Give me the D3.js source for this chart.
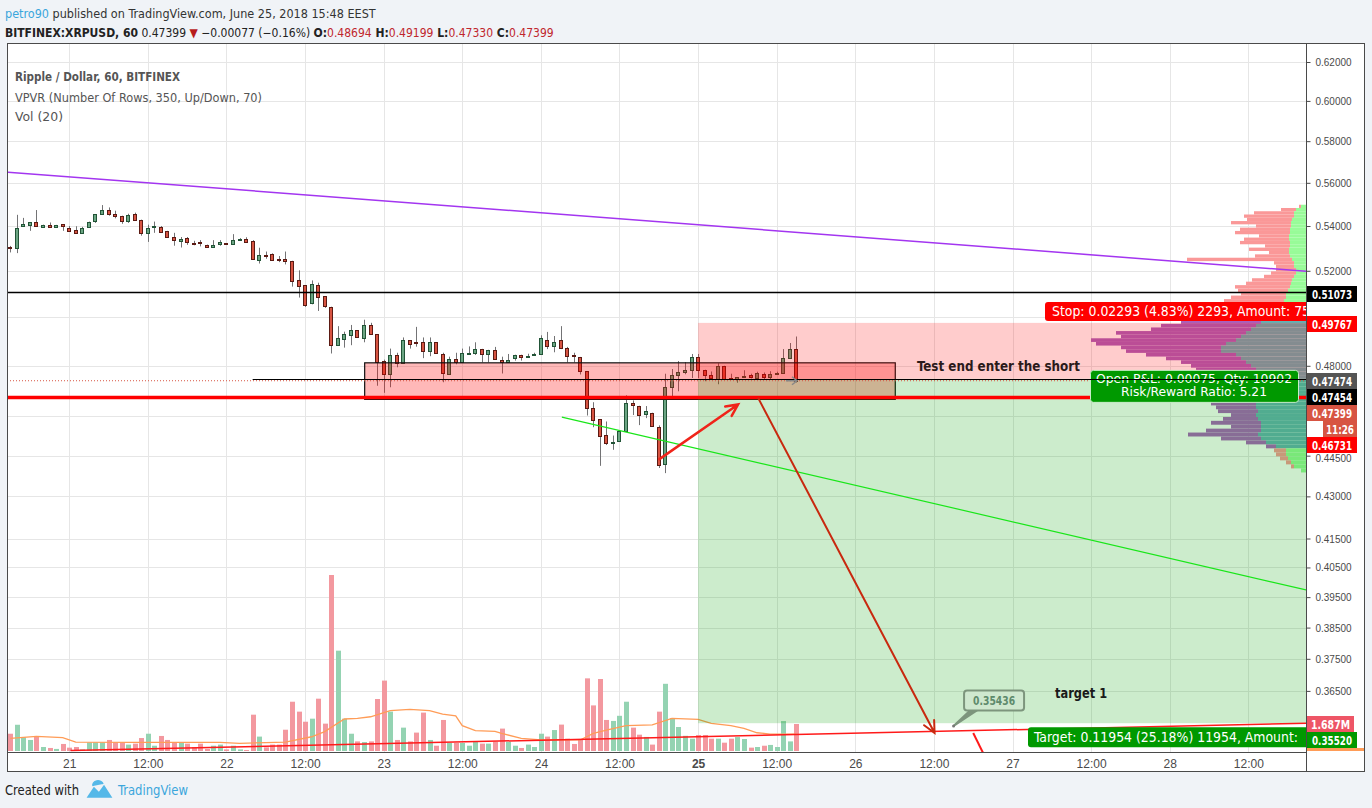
<!DOCTYPE html>
<html><head><meta charset="utf-8">
<script src="https://cdn.jsdelivr.net/npm/d3@7"></script>
<style>
body{margin:0;background:#f0f3f7;}
svg{display:block;font-family:"DejaVu Sans Condensed","Liberation Sans Narrow",Arial,sans-serif;}
</style></head><body>
<svg id="c" width="1372" height="808"></svg>
<script>
// ---------------- DATA ----------------
const firstBar = "2018-06-20T15:00:00Z"; // hourly bars
const opens = [.5305,.5300,.5399,.5401,.5416,.5397,.5405,.5397,.5409,.5393,.5384,.5369,.5399,.5420,.5452,.5475,.5456,.5447,.5423,.5456,
.5429,.5371,.5393,.5397,.5375,.5349,.5334,.5344,.5325,.5326,.5316,.5306,.5318,.5323,.5317,.5335,.5341,.5332,.5250,.5271,
.5273,.5250,.5250,.5244,.5158,.5137,.5060,.5137,.5089,.5045,.4884,.4911,.4927,.4946,.4915,.4968,.4929,.4820,.4768,.4844,
.4812,.4905,.4897,.4896,.4859,.4896,.4849,.4770,.4829,.4816,.4848,.4851,.4869,.4848,.4865,.4825,.4817,.4833,.4845,.4836,
.4840,.4848,.4905,.4880,.4905,.4872,.4842,.4836,.4778,.4633,.4588,.4529,.4497,.4505,.4543,.4650,.4641,.4606,.4614,.4560,
.4417,.4715,.4762,.4775,.4784,.4836,.4784,.4761,.4748,.4800,.4749,.4745,.4752,.4761,.4752,.4765,.4752,.4765,.4768,.4830,.48694];
const highs = [.5310,.5451,.5437,.5416,.5473,.5406,.5416,.5405,.5409,.5400,.5399,.5396,.5420,.5454,.5496,.5485,.5470,.5447,.5456,.5461,
.5429,.5406,.5420,.5400,.5378,.5369,.5350,.5350,.5333,.5336,.5316,.5336,.5336,.5323,.5363,.5345,.5349,.5336,.5302,.5285,
.5277,.5265,.5285,.5244,.5202,.5137,.5158,.5148,.5089,.5045,.4963,.4940,.4968,.4946,.4990,.4977,.4929,.4825,.4870,.4853,
.4916,.4905,.4960,.4916,.4916,.4896,.4853,.4837,.4853,.4870,.4879,.4896,.4869,.4865,.4877,.4837,.4848,.4845,.4845,.4849,
.4853,.4925,.4939,.4922,.4963,.4877,.4853,.4836,.4778,.4655,.4588,.4580,.4526,.4543,.4682,.4662,.4641,.4640,.4614,.4565,
.4768,.4787,.4819,.4815,.4848,.4848,.4784,.4777,.4810,.4800,.4768,.4753,.4782,.4768,.4776,.4773,.4778,.4776,.4868,.4893,.49199];
const lows = [.5281,.5278,.5396,.5378,.5396,.5393,.5397,.5397,.5378,.5378,.5364,.5369,.5399,.5414,.5452,.5447,.5435,.5410,.5414,.5427,
.5356,.5328,.5369,.5369,.5346,.5311,.5303,.5315,.5313,.5308,.5307,.5306,.5311,.5317,.5317,.5335,.5329,.5251,.5232,.5253,
.5245,.5238,.5228,.5131,.5084,.5044,.5055,.5027,.5040,.4850,.4884,.4874,.4884,.4915,.4896,.4927,.4720,.4692,.4714,.4794,
.4812,.4870,.4878,.4831,.4839,.4851,.4734,.4765,.4806,.4816,.4848,.4844,.4814,.4814,.4829,.4769,.4817,.4821,.4821,.4836,
.4840,.4848,.4868,.4855,.4868,.4814,.4814,.4765,.4603,.4558,.4412,.4490,.4472,.4505,.4543,.4605,.4566,.4593,.4564,.4404,
.4385,.4670,.4698,.4766,.4751,.4751,.4738,.4748,.4726,.4748,.4745,.4732,.4752,.4749,.4752,.4743,.4743,.4765,.4768,.4830,.47330];
const closes = [.5301,.5390,.5410,.5416,.5396,.5404,.5397,.5405,.5398,.5378,.5369,.5393,.5420,.5454,.5471,.5456,.5445,.5423,.5451,.5427,
.5369,.5393,.5399,.5373,.5346,.5334,.5341,.5324,.5320,.5320,.5307,.5316,.5327,.5317,.5336,.5341,.5329,.5251,.5270,.5265,
.5245,.5244,.5241,.5155,.5133,.5052,.5141,.5087,.5047,.4884,.4913,.4930,.4946,.4915,.4968,.4929,.4814,.4768,.4844,.4812,
.4905,.4888,.4893,.4859,.4896,.4851,.4770,.4829,.4816,.4853,.4854,.4869,.4848,.4865,.4829,.4818,.4824,.4845,.4837,.4839,
.4846,.4914,.4880,.4897,.4872,.4840,.4838,.4778,.4633,.4585,.4524,.4499,.4502,.4543,.4650,.4641,.4606,.4619,.4564,.4415,
.4715,.4763,.4775,.4784,.4837,.4782,.4763,.4748,.4800,.4748,.4745,.4753,.4757,.4752,.4771,.4752,.4765,.4770,.4830,.4868,.47399];
// volume in millions
const volumes = [1.08,1.64,0.86,0.69,0.90,0.25,0.19,0.13,0.44,0.21,0.25,0.10,0.54,0.54,0.54,0.69,0.54,0.54,0.40,0.46,
0.81,1.08,0.33,0.94,0.69,0.54,0.54,0.46,0.25,0.46,0.13,0.33,0.40,0.10,0.33,0.10,0.06,2.27,0.90,0.23,
0.40,0.40,1.33,3.08,2.46,1.83,2.02,3.27,1.71,11.0,6.27,2.02,1.08,0.60,0.56,0.60,3.25,4.40,2.46,0.69,
1.46,0.60,1.15,2.40,0.69,0.33,1.94,0.50,0.50,0.50,0.33,0.60,0.46,0.46,0.58,1.40,0.58,0.33,0.19,0.40,
0.25,1.08,0.90,1.31,1.65,0.77,0.44,0.69,4.54,2.85,4.50,1.94,1.88,2.20,3.08,1.46,1.02,0.88,0.40,2.46,
4.20,2.06,1.50,0.95,0.77,1.00,1.00,0.77,0.77,0.52,0.77,0.87,0.75,0.21,0.25,0.33,0.38,0.25,1.87,0.60,1.687];
// Vol (20) moving average: [bar number, value in millions]
const volMA = [[0,.79],[4,.92],[8,.83],[10,.56],[19,.54],[32,.54],[35,.48],[39,.52],[42,.56],[46,.89],[48,1.21],[51,2.0],[53,2.04],
[55,2.14],[58,2.52],[61,2.6],[64,2.52],[66,2.31],[68,2.19],[69,1.58],[71,1.27],[74,1.23],[75,1.1],[78,.79],[81,.69],[87,.69],
[89,1.1],[91,1.31],[94,1.58],[98,1.63],[101,2.04],[105,1.98],[107,1.73],[110,1.58],[112,1.42],[114,1.14],[116,1.06],[120,1.06]];
// VPVR rows (row centre price, up volume, down volume; relative units)
const vpPrice = [.5490,.5475,.5460,.5445,.5430,.5415,.5400,.5385,.5370,.5355,.5340,.5325,.5310,.5295,.5280,.5265,.5250,.5235,.5220,.5205,
.5190,.5175,.5160,.5145,.5130,.5115,.5100,.5085,.5070,.5055,.5040,.5025,.5010,.4995,.4980,.4965,.4950,.4935,.4920,.4905,
.4890,.4875,.4860,.4845,.4830,.4815,.4800,.4785,.4770,.4755,.4740,.4725,.4710,.4695,.4680,.4665,.4650,.4635,.4620,.4605,
.4590,.4575,.4560,.4545,.4530,.4515,.4500,.4485,.4470,.4455,.4440,.4425,.4410,.4395];
const vpUp = [5,10,12,12,14,15,15,16,16,17,17,16,16,17,17,16,14,12,12,10,10,12,14,15,16,18,20,20,22,25,
25,28,30,35,45,50,55,60,65,70,80,85,85,70,65,60,55,50,55,55,60,60,60,55,55,55,50,50,48,50,
48,45,45,45,48,45,40,30,20,20,18,15,12,5];
const vpDown = [2,15,40,50,45,60,35,50,55,30,45,50,25,40,20,35,105,20,18,20,25,30,40,45,55,50,45,55,60,55,
55,60,60,70,80,95,100,130,120,145,130,100,95,90,75,65,60,60,55,60,60,65,70,65,60,50,45,40,40,25,
35,50,30,55,70,40,20,10,12,10,8,5,3,0];
const vaHigh = 0.4980, vaLow = 0.4480;
// axis ticks (gridlines) and the tick labels left visible by the price tags
const priceTicks = [0.62,0.60,0.58,0.56,0.54,0.52,0.50,0.48,0.46,0.445,0.43,0.415,0.405,0.395,0.385,0.375,0.365];
const priceTickLabels = [0.62,0.60,0.58,0.56,0.54,0.52,0.48,0.445,0.43,0.415,0.405,0.395,0.385,0.375,0.365];
const timeTicks = ["2018-06-21T00:00Z","2018-06-21T12:00Z","2018-06-22T00:00Z","2018-06-22T12:00Z","2018-06-23T00:00Z","2018-06-23T12:00Z",
"2018-06-24T00:00Z","2018-06-24T12:00Z","2018-06-25T00:00Z","2018-06-25T12:00Z","2018-06-26T00:00Z","2018-06-26T12:00Z",
"2018-06-27T00:00Z","2018-06-27T12:00Z","2018-06-28T00:00Z","2018-06-28T12:00Z"];
const timeTickLabels = ["21","12:00","22","12:00","23","12:00","24","12:00","25","12:00","26","12:00","27","12:00","28","12:00"];
// drawings (time, price)
const purpleLine = [["2018-06-20T14:30Z",0.5651],["2018-06-28T20:48Z",0.5198]];
const greenLine = [["2018-06-24T03:12Z",0.4597],["2018-06-28T20:48Z",0.3974]];
const redTrend = [["2018-06-21T00:12Z",0.3471],["2018-06-28T20:48Z",0.3552]];
const redStub = [["2018-06-26T18:00Z",0.3523],["2018-06-26T20:00Z",0.3445]];
const resistance = 0.51073, supportThick = 0.46731, entryRay = 0.47454, entryRayStart = "2018-06-22T04:00Z";
const zoneBox = {t1:"2018-06-22T21:06Z", t2:"2018-06-26T06:06Z", p1:0.4812, p2:0.4666};
const position = {start:"2018-06-25T00:00Z", end:"2018-06-30T00:00Z", entry:0.47474, stop:0.49767, target:0.35520};
const arrow1 = [["2018-06-24T18:06Z",0.4437],["2018-06-25T06:06Z",0.4646]];
const arrow2 = [["2018-06-25T09:12Z",0.4670],["2018-06-26T12:06Z",0.3523]];
const callout = {t:"2018-06-26T15:00Z", p:0.35436, text:"0.35436"};
const noteTarget = {t:"2018-06-27T06:30Z", p:0.3644, text:"target 1"};
const noteShort = {t:"2018-06-26T09:24Z", p:0.4800, text:"Test end enter the short"};
const lastPrice = 0.47399;

// ---------------- CHART ----------------
const L=7,R=1306,T=43,B=752,FR=1364,FB=771;
const HR=3600000, t0=new Date(firstBar).getTime();
const D = s => new Date(s);
const x = d3.scaleUtc().domain([new Date(t0-0.5*HR), new Date(t0+197.8*HR)]).range([L,R]);
const y = d3.scaleLog().domain([0.365,0.62]).range([690.9,62]);
const yv = d3.scaleLinear().domain([0,11]).range([751,575]);
const barX = i => x(new Date(t0+i*HR));
const fit = (sel,w) => sel.attr("textLength",w).attr("lengthAdjust","spacingAndGlyphs");

const svg=d3.select("#c");
svg.append("rect").attr("width",1372).attr("height",808).attr("fill","#f0f3f7");
svg.append("rect").attr("x",L+0.5).attr("y",T+0.5).attr("width",FR-L).attr("height",FB-T).attr("fill","#fff").attr("stroke","#4a4a4a");
svg.append("clipPath").attr("id","pc").append("rect").attr("x",L+1).attr("y",T+1).attr("width",R-L-1).attr("height",B-T-1);

const plot=svg.append("g").attr("clip-path","url(#pc)");
// grid
plot.append("g").selectAll("line").data(priceTicks).join("line")
 .attr("x1",L).attr("x2",R).attr("y1",d=>Math.round(y(d))+0.5).attr("y2",d=>Math.round(y(d))+0.5).attr("stroke","#e6e6e6");
plot.append("g").selectAll("line").data(timeTicks).join("line")
 .attr("y1",T).attr("y2",B).attr("x1",d=>Math.round(x(D(d)))+0.5).attr("x2",d=>Math.round(x(D(d)))+0.5).attr("stroke","#e6e6e6");

// legend
const leg=svg.append("g").attr("fill","#555").attr("font-size",13);
fit(leg.append("text").attr("x",15).attr("y",81).attr("font-weight","bold").text("Ripple / Dollar, 60, BITFINEX"),165);
fit(leg.append("text").attr("x",15).attr("y",102).text("VPVR (Number Of Rows, 350, Up/Down, 70)"),247);
fit(leg.append("text").attr("x",15).attr("y",121).text("Vol (20)"),48);

// volume bars
plot.append("g").selectAll("rect").data(volumes).join("rect")
 .attr("x",(d,i)=>Math.round(barX(i))-2).attr("width",5)
 .attr("y",d=>yv(d)).attr("height",d=>yv(0)-yv(d))
 .attr("fill",(d,i)=>closes[i]>=opens[i]?"#94d3b2":"#f3989f");
plot.append("path").datum(volMA).attr("fill","none").attr("stroke","#ff9c57").attr("stroke-width",1.3)
 .attr("d",d3.line().x(d=>barX(d[0])).y(d=>yv(d[1])));

// VPVR
const vpW = d3.scaleLinear().domain([0,215]).range([0,215]);
const vp = plot.append("g");
vpPrice.forEach((p,i)=>{
  const yTop=y(p+0.00075), yBot=y(p-0.00075);
  const inVA = p<=vaHigh && p>=vaLow;
  const wu=vpW(vpUp[i]), wd=vpW(vpDown[i]);
  vp.append("rect").attr("x",R-wu).attr("width",wu).attr("y",yTop).attr("height",yBot-yTop).attr("fill",inVA?"#66b0b4":"#98fb98");
  vp.append("rect").attr("x",R-wu-wd).attr("width",wd).attr("y",yTop).attr("height",yBot-yTop).attr("fill",inVA?"#aa61bc":"#fa9898");
});

// candles
const cg=plot.append("g");
opens.forEach((o,i)=>{
  const c=closes[i], up=c>=o, cx=Math.round(barX(i));
  cg.append("line").attr("x1",cx+0.5).attr("x2",cx+0.5).attr("y1",y(highs[i])).attr("y2",y(lows[i])).attr("stroke","#737375");
  const y1=y(Math.max(o,c)), y2=y(Math.min(o,c));
  cg.append("rect").attr("x",cx-1.5).attr("width",3).attr("y",Math.round(y1)+0.5).attr("height",Math.max(1,Math.round(y2-y1)))
   .attr("fill",up?"#6ba583":"#d75442").attr("stroke",up?"#225437":"#5b1a13");
});

// lines
const seg=(pts,col,w)=>plot.append("line").attr("x1",x(D(pts[0][0]))).attr("y1",y(pts[0][1])).attr("x2",x(D(pts[1][0]))).attr("y2",y(pts[1][1])).attr("stroke",col).attr("stroke-width",w);
// zone box
plot.append("rect").attr("x",x(D(zoneBox.t1))).attr("width",x(D(zoneBox.t2))-x(D(zoneBox.t1)))
 .attr("y",y(zoneBox.p1)).attr("height",y(zoneBox.p2)-y(zoneBox.p1)).attr("fill","rgba(255,0,0,0.28)").attr("stroke","#111").attr("stroke-width",1.2);
// position tool
const px1=x(D(position.start)), px2=x(D(position.end));
plot.append("rect").attr("x",px1).attr("width",px2-px1).attr("y",y(position.stop)).attr("height",y(position.entry)-y(position.stop)).attr("fill","rgba(255,0,0,0.2)");
plot.append("rect").attr("x",px1).attr("width",px2-px1).attr("y",y(position.entry)).attr("height",y(position.target)-y(position.entry)).attr("fill","rgba(0,160,0,0.2)");

seg(purpleLine,"#a335f0",1.5);
seg(greenLine,"#19e619",1.2);
seg(redTrend,"#ff1a1a",1.5);
seg(redStub,"#ff1a1a",2);
plot.append("line").attr("x1",L).attr("x2",R).attr("y1",Math.round(y(resistance))+0.5).attr("y2",Math.round(y(resistance))+0.5).attr("stroke","#000").attr("stroke-width",1.3);
plot.append("line").attr("x1",L).attr("x2",R).attr("y1",y(supportThick)).attr("y2",y(supportThick)).attr("stroke","#ff0000").attr("stroke-width",3.5);
plot.append("line").attr("x1",L).attr("x2",R).attr("y1",y(lastPrice)).attr("y2",y(lastPrice)).attr("stroke","#d75442").attr("stroke-dasharray","1,2");

// arrows
function arrow(pts,col,w){
  const x1=x(D(pts[0][0])),y1=y(pts[0][1]),x2=x(D(pts[1][0])),y2=y(pts[1][1]);
  const a=Math.atan2(y2-y1,x2-x1), len=13, sp=0.45;
  plot.append("path").attr("fill","none").attr("stroke",col).attr("stroke-width",w).attr("stroke-linecap","round")
   .attr("d",`M${x1},${y1}L${x2},${y2}M${x2-len*Math.cos(a-sp)},${y2-len*Math.sin(a-sp)}L${x2},${y2}L${x2-len*Math.cos(a+sp)},${y2-len*Math.sin(a+sp)}`);
}
arrow(arrow1,"#f0241a",2.5);
arrow(arrow2,"#c8290f",2);

// callout
const cx0=x(D(callout.t)), cy0=y(callout.p);
plot.append("path").attr("d",`M${cx0},${cy0}L${cx0+17},${cy0-16}L${cx0+24},${cy0-16}Z`).attr("fill","#7d957d").attr("stroke","#7d957d").attr("stroke-width",2);
plot.append("rect").attr("x",cx0+10.5).attr("y",cy0-35.5).attr("width",60).attr("height",20).attr("rx",3)
 .attr("fill","#cfe8cf").attr("stroke","#7d957d").attr("stroke-width",2);
fit(plot.append("text").attr("x",cx0+40.5).attr("y",cy0-21).attr("text-anchor","middle").attr("font-size",12).attr("font-weight","bold").attr("fill","#5e8a6c").text(callout.text),42);
plot.append("circle").attr("cx",cx0).attr("cy",cy0).attr("r",1.5).attr("fill","#777");

// notes
fit(plot.append("text").attr("x",x(D(noteTarget.t))).attr("y",y(noteTarget.p)+5).attr("font-size",14).attr("font-weight","bold").attr("fill","#1a1a1a").text(noteTarget.text),52);
fit(plot.append("text").attr("x",x(D(noteShort.t))).attr("y",y(noteShort.p)+5).attr("font-size",14).attr("font-weight","bold").attr("fill","#2a1a1a").text(noteShort.text),163);

// position labels
const stopY=y(position.stop);
plot.append("rect").attr("x",1045).attr("y",stopY-21).attr("width",280).attr("height",19).attr("rx",3).attr("fill","#ff0000");
fit(plot.append("text").attr("x",1052).attr("y",stopY-7).attr("fill","#fff").attr("font-size",14).text("Stop: 0.02293 (4.83%) 2293, Amount: 75"),258);
const tgY=y(position.target);
plot.append("rect").attr("x",1028).attr("y",tgY+4).attr("width",290).attr("height",20).attr("rx",3).attr("fill","#009900");
fit(plot.append("text").attr("x",1034).attr("y",tgY+19).attr("fill","#fff").attr("font-size",14).text("Target: 0.11954 (25.18%) 11954, Amount:"),264);
const enY=y(position.entry);
plot.append("rect").attr("x",1090.5).attr("y",enY-8.5).attr("width",208).attr("height",32).attr("rx",3).attr("fill","#009900").attr("stroke","#c8ecc8");
fit(plot.append("text").attr("x",1194).attr("y",enY+4.5).attr("text-anchor","middle").attr("fill","#fff").attr("font-size",12).text("Open P&L: 0.00075, Qty: 10902"),196);
fit(plot.append("text").attr("x",1194).attr("y",enY+17.5).attr("text-anchor","middle").attr("fill","#fff").attr("font-size",12).text("Risk/Reward Ratio: 5.21"),146);
// entry ray (drawn on top)
plot.append("line").attr("x1",x(D(entryRayStart))).attr("x2",R).attr("y1",Math.round(y(entryRay))+0.5).attr("y2",Math.round(y(entryRay))+0.5).attr("stroke","#000").attr("stroke-width",1);
// marker
const lx=Math.round(barX(opens.length-1));
plot.append("path").attr("d",`M${lx-10},${y(lastPrice)}L${lx+1},${y(lastPrice)}M${lx-4},${y(lastPrice)-4}L${lx+1},${y(lastPrice)}L${lx-4},${y(lastPrice)+4}`).attr("fill","none").attr("stroke","#888").attr("stroke-width",1.5);

// axes
svg.append("line").attr("x1",R+0.5).attr("x2",R+0.5).attr("y1",T).attr("y2",FB).attr("stroke","#4a4a4a");
svg.append("line").attr("x1",L).attr("x2",R).attr("y1",B+0.5).attr("y2",B+0.5).attr("stroke","#4a4a4a");
const ya=svg.append("g").attr("transform",`translate(${R+0.5},0)`)
 .call(d3.axisRight(y).tickValues(priceTickLabels).tickFormat(d3.format(".5f")).tickSize(4).tickPadding(5));
ya.select(".domain").remove();
fit(ya.selectAll("text").attr("font-size",11).attr("fill","#4a4a4a").attr("font-family","inherit"),36);
ya.selectAll("text").filter(d=>d===0.445).attr("dy","0.5em");
ya.selectAll("line").attr("stroke","#4a4a4a");
const xa=svg.append("g").attr("transform",`translate(0,${B})`)
 .call(d3.axisBottom(x).tickValues(timeTicks.map(D)).tickFormat((d,i)=>timeTickLabels[i]).tickSize(0).tickPadding(7));
xa.select(".domain").remove();
xa.selectAll("text").attr("font-size",12).attr("fill","#4a4a4a").attr("font-family","inherit")
 .attr("font-weight",(d,i)=>timeTickLabels[i]==="25"?"bold":"normal");

// price labels
function plabel(yc,text,bg,x0=R+1,w=50,tw=40){
  svg.append("rect").attr("x",x0).attr("y",yc-8).attr("width",w).attr("height",16).attr("fill",bg);
  fit(svg.append("text").attr("x",x0+w/2).attr("y",yc+4.5).attr("text-anchor","middle").attr("fill","#fff").attr("font-size",12.5).attr("font-weight","bold").text(text),tw);
}
plabel(294,"0.51073","#000");
plabel(324,"0.49767","#ff0000");
plabel(381,"0.47474","#555");
plabel(397,"0.47454","#000");
plabel(413,"0.47399","#d75442");
plabel(429,"11:26","#d75442",1323,34,28);
plabel(445,"0.46731","#ff0000");
plabel(724,"1.687M","#ee5566",R+1,47,39);
plabel(740,"0.35520","#009900");
svg.append("rect").attr("x",R+1).attr("y",748).attr("width",FR-R-1).attr("height",3).attr("fill","#ff9c57");

// header
const h1=svg.append("text").attr("x",5).attr("y",18).attr("font-size",12.5).attr("fill","#333");
h1.append("tspan").attr("fill","#3ba6dc").text("petro90");
h1.append("tspan").text(" published on TradingView.com, June 25, 2018 15:48 EEST");
const h2=svg.append("text").attr("x",5).attr("y",37).attr("font-size",12).attr("fill","#222");
h2.append("tspan").attr("font-weight","bold").text("BITFINEX:XRPUSD, 60");
h2.append("tspan").text(" 0.47399 ");
h2.append("tspan").attr("fill","#b71c1c").text("▼");
h2.append("tspan").text(" −0.00077 (−0.16%) ");
[["O:","0.48694"],["H:","0.49199"],["L:","0.47330"],["C:","0.47399"]].forEach((p,i)=>{
  h2.append("tspan").attr("font-weight","bold").text((i?" ":"")+p[0]);
  h2.append("tspan").attr("fill","#c0262d").text(p[1]);
});
// footer
fit(svg.append("text").attr("x",5).attr("y",795).attr("font-size",14).attr("fill","#222").text("Created with"),74);
svg.append("path").attr("d","M88,797 L94,788 L99,793 L104,786 L111,797 Z M93,786 a5,4 0 0,1 10,-2").attr("fill","#55b8e8").attr("stroke","#55b8e8").attr("stroke-width",1.5);
fit(svg.append("text").attr("x",118).attr("y",795).attr("font-size",14).attr("fill","#3ba6dc").text("TradingView"),70);
</script></body></html>
